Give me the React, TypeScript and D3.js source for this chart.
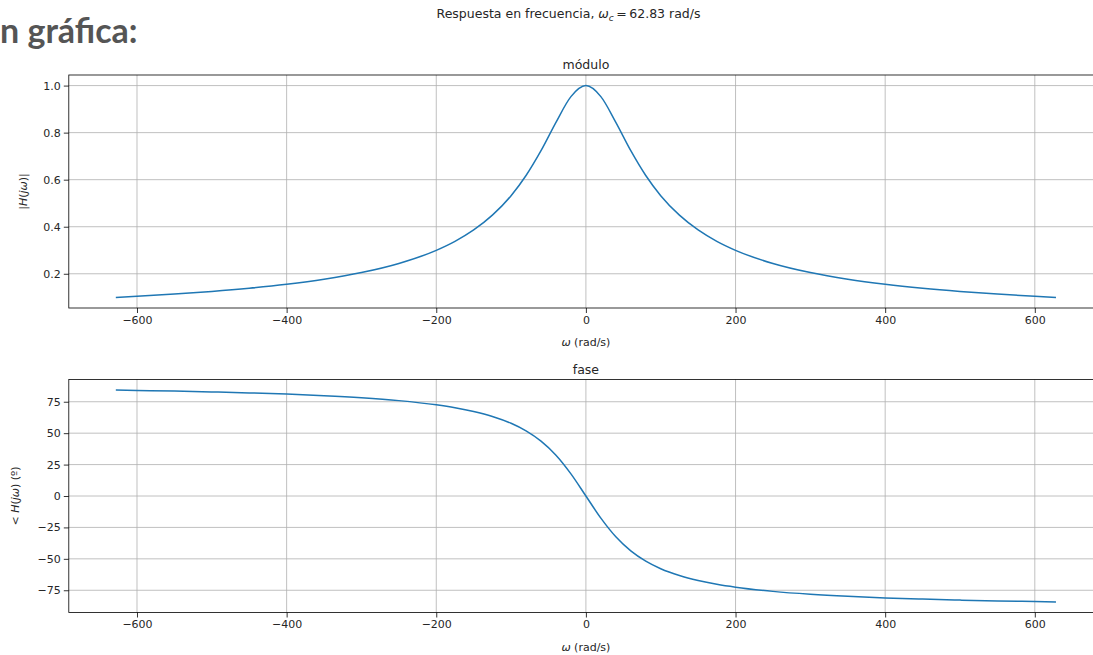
import React, { useEffect, useRef } from 'react';
import * as d3 from 'd3';

// Samples (omega in rad/s)
const omega = [
  -628.3, -600, -550, -500, -450, -400, -350, -300, -250, -200, -175, -150, -125, -100, -80, -60, -40, -20,
  0,
  20, 40, 60, 80, 100, 125, 150, 175, 200, 250, 300, 350, 400, 450, 500, 550, 600, 628.3,
];
const modulo = [
  0.0995, 0.1041, 0.1135, 0.1247, 0.1383, 0.1552, 0.1767, 0.205, 0.2437, 0.2997, 0.3379, 0.3864, 0.4491, 0.532, 0.6177, 0.7232, 0.8436, 0.953,
  1.0,
  0.953, 0.8436, 0.7232, 0.6177, 0.532, 0.4491, 0.3864, 0.3379, 0.2997, 0.2437, 0.205, 0.1767, 0.1552, 0.1383, 0.1247, 0.1135, 0.1041, 0.0995,
];
const fase = [
  84.29, 84.02, 83.48, 82.84, 82.05, 81.07, 79.82, 78.17, 75.89, 72.56, 70.25, 67.27, 63.31, 57.86, 51.85, 43.68, 32.49, 17.65,
  0,
  -17.65, -32.49, -43.68, -51.85, -57.86, -63.31, -67.27, -70.25, -72.56, -75.89, -78.17, -79.82, -81.07, -82.05, -82.84, -83.48, -84.02, -84.29,
];

const xTicks = [-600, -400, -200, 0, 200, 400, 600];
const modTicks = [0.2, 0.4, 0.6, 0.8, 1.0];
const faseTicks = [-75, -50, -25, 0, 25, 50, 75];

const W = 1093;
const H = 655;
const FONT = "'DejaVu Sans', sans-serif";
const LINE = '#1f77b4';

const fmtMinus = (v: number) => (v < 0 ? '\u2212' + Math.abs(v) : String(v));

const App = () => {
  const svgRef = useRef<SVGSVGElement>(null);

  useEffect(() => {
    const svg = d3.select(svgRef.current);
    svg.selectAll('*').remove();

    const left = 68.8;
    const right = 1103;
    const x = d3.scaleLinear().domain([-691.15, 691.15]).range([left, right]);

    // one panel: title, grid, curve, spines, ticks
    const drawPanel = (
      top: number,
      bottom: number,
      yDomain: [number, number],
      yTicks: number[],
      yFmt: (v: number) => string,
      values: number[],
      title: string,
    ) => {
      const y = d3.scaleLinear().domain(yDomain).range([bottom, top]);
      const g = svg.append('g');

      // grid
      g.selectAll('.gx')
        .data(xTicks)
        .enter()
        .append('line')
        .attr('x1', (d) => x(d))
        .attr('x2', (d) => x(d))
        .attr('y1', top)
        .attr('y2', bottom)
        .attr('stroke', '#b0b0b0')
        .attr('stroke-width', 0.8);
      g.selectAll('.gy')
        .data(yTicks)
        .enter()
        .append('line')
        .attr('x1', left)
        .attr('x2', right)
        .attr('y1', (d) => y(d))
        .attr('y2', (d) => y(d))
        .attr('stroke', '#b0b0b0')
        .attr('stroke-width', 0.8);

      // curve
      const line = d3
        .line<number>()
        .x((_, i) => x(omega[i]))
        .y((d) => y(d))
        .curve(d3.curveMonotoneX);
      g.append('path')
        .datum(values)
        .attr('d', line)
        .attr('fill', 'none')
        .attr('stroke', LINE)
        .attr('stroke-width', 1.5);

      // spines
      g.append('rect')
        .attr('x', left)
        .attr('y', top)
        .attr('width', right - left)
        .attr('height', bottom - top)
        .attr('fill', 'none')
        .attr('stroke', '#000')
        .attr('stroke-width', 0.8);

      // x axis
      const xa = g
        .append('g')
        .attr('transform', `translate(0,${bottom})`)
        .call(d3.axisBottom(x).tickValues(xTicks).tickSize(5).tickPadding(3).tickFormat((d) => fmtMinus(+d)));
      xa.select('.domain').remove();
      xa.selectAll('text').attr('font-family', FONT).attr('font-size', 11).attr('fill', '#262626');
      xa.selectAll('line').attr('stroke', '#000').attr('stroke-width', 0.8);

      // y axis
      const ya = g
        .append('g')
        .attr('transform', `translate(${left},0)`)
        .call(d3.axisLeft(y).tickValues(yTicks).tickSize(5).tickPadding(3).tickFormat((d) => yFmt(+d)));
      ya.select('.domain').remove();
      ya.selectAll('text').attr('font-family', FONT).attr('font-size', 11).attr('fill', '#262626');
      ya.selectAll('line').attr('stroke', '#000').attr('stroke-width', 0.8);

      // panel title
      g.append('text')
        .attr('x', x(0))
        .attr('y', top - 6)
        .attr('text-anchor', 'middle')
        .attr('font-family', FONT)
        .attr('font-size', 12.5)
        .attr('fill', '#262626')
        .text(title);

      // x label
      const xl = g
        .append('text')
        .attr('x', x(0))
        .attr('y', bottom + 38)
        .attr('text-anchor', 'middle')
        .attr('font-family', FONT)
        .attr('font-size', 11)
        .attr('fill', '#262626');
      xl.append('tspan').attr('font-style', 'italic').text('ω');
      xl.append('tspan').text(' (rad/s)');
    };

    drawPanel(75, 308, [0.0545, 1.045], modTicks, (v) => v.toFixed(1), modulo, 'módulo');
    drawPanel(379.5, 612.5, [-92.7, 92.7], faseTicks, fmtMinus, fase, 'fase');

    // y labels
    const yl1 = svg
      .append('text')
      .attr('transform', `translate(27,191.5) rotate(-90)`)
      .attr('text-anchor', 'middle')
      .attr('font-family', FONT)
      .attr('font-size', 11)
      .attr('fill', '#262626');
    yl1.append('tspan').text('|');
    yl1.append('tspan').attr('font-style', 'italic').text('H');
    yl1.append('tspan').text('(');
    yl1.append('tspan').attr('font-style', 'italic').text('jω');
    yl1.append('tspan').text(')|');

    const yl2 = svg
      .append('text')
      .attr('transform', `translate(19,496) rotate(-90)`)
      .attr('text-anchor', 'middle')
      .attr('font-family', FONT)
      .attr('font-size', 11)
      .attr('fill', '#262626');
    yl2.append('tspan').text('< ');
    yl2.append('tspan').attr('font-style', 'italic').text('H');
    yl2.append('tspan').text('(');
    yl2.append('tspan').attr('font-style', 'italic').text('jω');
    yl2.append('tspan').text(') (º)');

    // figure title
    const st = svg
      .append('text')
      .attr('x', 568.5)
      .attr('y', 18)
      .attr('text-anchor', 'middle')
      .attr('font-family', FONT)
      .attr('font-size', 12.5)
      .attr('fill', '#262626');
    st.append('tspan').text('Respuesta en frecuencia, ');
    st.append('tspan').attr('font-style', 'italic').text('ω');
    st.append('tspan').attr('font-style', 'italic').attr('font-size', 9).attr('dy', 3).text('c');
    st.append('tspan').attr('dy', -3).text('\u2009=\u200962.83 rad/s');

    // cropped notebook heading (only its tail is visible)
    svg
      .append('text')
      .attr('x', 0)
      .attr('y', 43)
      .attr('font-family', 'Lato, sans-serif')
      .attr('font-weight', 'bold')
      .attr('font-size', 34)
      .attr('fill', '#555555')
      .text('n gráfica:');
  }, []);

  return (
    <svg
      ref={svgRef}
      width={W}
      height={H}
      style={{ position: 'absolute', left: 0, top: 0, background: '#fff' }}
    />
  );
};

export default App;
